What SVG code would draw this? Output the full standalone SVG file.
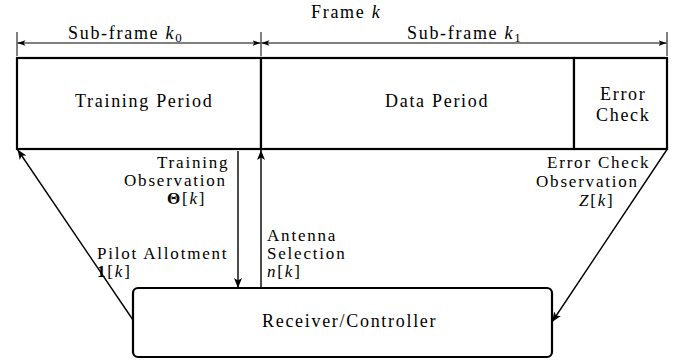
<svg xmlns="http://www.w3.org/2000/svg" width="683" height="362" viewBox="0 0 683 362">
<style>
text{font-family:'Liberation Serif','DejaVu Serif','Times New Roman',serif;font-size:18px;letter-spacing:1.7px;fill:#000}
.lb{font-size:17px;letter-spacing:1.8px}
.it{font-style:italic}
.bf{font-weight:bold}
.sub{font-size:13px;letter-spacing:0}
.box{fill:#fff;stroke:#000;stroke-width:2.2}
.dim{stroke:#000;stroke-width:1;fill:none}
.conn{stroke:#000;stroke-width:1.4;fill:none}
</style>
<defs>
<marker id="ah" viewBox="0 0 10 10" refX="10" refY="5" markerWidth="10" markerHeight="10" markerUnits="userSpaceOnUse" orient="auto-start-reverse">
<path d="M0,1 L10,5 L0,9 L2.5,5 Z" fill="#000"/>
</marker>
<marker id="ahs" viewBox="0 0 10 10" refX="10" refY="5" markerWidth="8" markerHeight="8" markerUnits="userSpaceOnUse" orient="auto-start-reverse">
<path d="M0,1.5 L10,5 L0,8.5 L2.5,5 Z" fill="#000"/>
</marker>
</defs>

<g id="frame-dimension">
<line class="dim" x1="17" y1="32" x2="17" y2="56"/>
<line class="dim" x1="261" y1="32" x2="261" y2="56"/>
<line class="dim" x1="667" y1="32" x2="667" y2="56"/>
<line class="dim" x1="17.5" y1="43" x2="260.5" y2="43" marker-start="url(#ahs)" marker-end="url(#ahs)"/>
<line class="dim" x1="261.5" y1="43" x2="666.5" y2="43" marker-start="url(#ahs)" marker-end="url(#ahs)"/>
<text x="311" y="18">Frame <tspan class="it">k</tspan></text>
<text x="68" y="39">Sub-frame <tspan class="it">k</tspan><tspan class="sub" dy="3">0</tspan></text>
<text x="407" y="39">Sub-frame <tspan class="it">k</tspan><tspan class="sub" dy="3">1</tspan></text>
</g>

<g id="training-period">
<rect class="box" x="17" y="58" width="244" height="91"/>
<text x="75" y="107">Training Period</text>
</g>
<g id="data-period">
<rect class="box" x="261" y="58" width="313" height="91"/>
<text x="385" y="107">Data Period</text>
</g>
<g id="error-check">
<rect class="box" x="574" y="58" width="93" height="91"/>
<text x="600" y="100">Error</text>
<text x="596" y="121">Check</text>
</g>

<g id="receiver-controller">
<rect class="box" x="133" y="288" width="419" height="69" rx="5" ry="5"/>
<text x="262" y="327">Receiver/Controller</text>
</g>

<g id="connectors">
<line class="conn" x1="133" y1="320" x2="17.5" y2="149.5" marker-end="url(#ah)"/>
<line class="conn" x1="238" y1="151" x2="238" y2="288" marker-end="url(#ah)"/>
<line class="conn" x1="261" y1="288" x2="261" y2="150" marker-end="url(#ah)"/>
<line class="conn" x1="667" y1="149.5" x2="552" y2="322" marker-end="url(#ah)"/>
</g>

<g id="labels">
<text class="lb" x="157" y="168">Training</text>
<text class="lb" x="124" y="186">Observation</text>
<text class="lb" x="167" y="204"><tspan class="bf">Θ</tspan>[<tspan class="it">k</tspan>]</text>
<text class="lb" x="97" y="259">Pilot Allotment</text>
<text class="lb" x="97" y="277"><tspan class="bf">1</tspan>[<tspan class="it">k</tspan>]</text>
<text class="lb" x="267" y="241">Antenna</text>
<text class="lb" x="267" y="259">Selection</text>
<text class="lb" x="267" y="277"><tspan class="it">n</tspan>[<tspan class="it">k</tspan>]</text>
<text class="lb" x="547" y="168">Error Check</text>
<text class="lb" x="536" y="187">Observation</text>
<text class="lb" x="579" y="206"><tspan class="it">Z</tspan>[<tspan class="it">k</tspan>]</text>
</g>
</svg>
